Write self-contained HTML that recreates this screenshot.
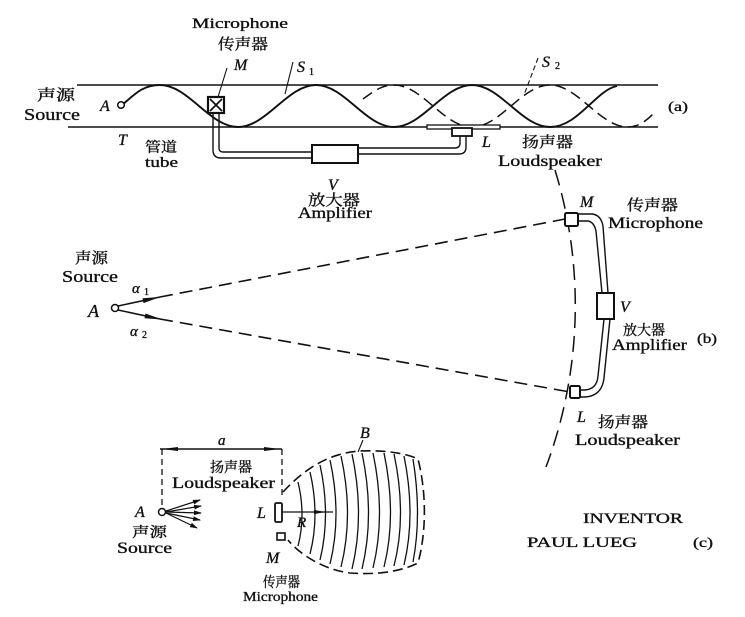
<!DOCTYPE html>
<html><head><meta charset="utf-8"><style>
html,body{margin:0;padding:0;background:#fff;}
svg{display:block;}
text{font-family:"Liberation Serif","Noto Serif CJK SC",serif;fill:#111;stroke:#111;stroke-width:0.35px;}
.cj{font-family:"Liberation Serif","Noto Serif CJK SC","Noto Sans CJK SC",serif;}
.it{font-style:italic;}
</style></head><body>
<svg width="745" height="617" viewBox="0 0 745 617" xmlns="http://www.w3.org/2000/svg">
<defs>
<marker id="ah" markerWidth="8" markerHeight="6" refX="7" refY="3" orient="auto" markerUnits="userSpaceOnUse"><path d="M0,0.6 L8,3 L0,5.4z" fill="#111"/></marker>
</defs>
<rect width="745" height="617" fill="#fff"/>

<!-- ===== (a) tube ===== -->
<g stroke="#111" fill="none">
<line x1="77" y1="85" x2="658" y2="85" stroke-width="1.6"/>
<line x1="68" y1="127" x2="658" y2="127" stroke-width="1.6"/>
<path d="M121,106 C134,95 142,85 160,85 C188.4,85 209.6,127 238,127 S287.6,85 316,85 S365.6,127 394,127 S443.6,85 472,85 S521.6,127 550,127 C578,127 596,90 617,86" stroke-width="1.9"/>
<path d="M363,99 C374,91 382,85 394,85 C422.4,85 443.6,127 472,127 S521.6,85 550,85 S599.6,127 628,127 C638,127 646,121 653,114" stroke-width="1.5" stroke-dasharray="11 6"/>
<line x1="227" y1="68" x2="218" y2="97" stroke-width="1.1"/>
<line x1="293" y1="62" x2="285" y2="94" stroke-width="1.1"/>
<line x1="538" y1="58" x2="524" y2="95" stroke-width="1.1" stroke-dasharray="5 3"/>
<path d="M213,113 L213,150 Q213,158 221,158 L312,158" stroke-width="1.4"/>
<path d="M219,113 L219,148 Q219,152 223,152 L312,152" stroke-width="1.4"/>
<path d="M358,148 L455,148 Q460,148 460,143 L460,136" stroke-width="1.4"/>
<path d="M358,154 L459,154 Q466,154 466,147 L466,136" stroke-width="1.4"/>
<rect x="312" y="145" width="46" height="18" fill="#fff" stroke-width="2"/>
<rect x="427" y="125" width="73" height="4" fill="#fff" stroke-width="1.3"/>
<rect x="452" y="128" width="20" height="8" fill="#fff" stroke-width="1.8"/>
<rect x="208" y="97" width="16" height="16" fill="#fff" stroke-width="2.2"/>
<line x1="210" y1="99" x2="222" y2="111" stroke-width="1.8"/>
<line x1="222" y1="99" x2="210" y2="111" stroke-width="1.8"/>
</g>
<circle cx="121" cy="105" r="3.3" fill="#fff" stroke="#111" stroke-width="1.5"/>

<text x="192" y="28" font-size="15" textLength="96" lengthAdjust="spacingAndGlyphs">Microphone</text>
<text class="cj" x="218" y="49" font-size="15" textLength="50" lengthAdjust="spacingAndGlyphs">传声器</text>
<text class="it" x="234" y="70" font-size="16">M</text>
<text class="it" x="297" y="72" font-size="16">S</text><text x="309" y="75" font-size="10">1</text>
<text class="it" x="542" y="67" font-size="16">S</text><text x="555" y="69" font-size="10">2</text>
<text class="cj" x="37" y="100" font-size="15" textLength="38" lengthAdjust="spacingAndGlyphs">声源</text>
<text x="24" y="120" font-size="17" textLength="56" lengthAdjust="spacingAndGlyphs">Source</text>
<text class="it" x="100" y="111" font-size="16">A</text>
<text class="it" x="118" y="145" font-size="16">T</text>
<text class="cj" x="145" y="152" font-size="14" textLength="32" lengthAdjust="spacingAndGlyphs">管道</text>
<text x="145" y="167" font-size="15" textLength="33" lengthAdjust="spacingAndGlyphs">tube</text>
<text class="it" x="328" y="190" font-size="16">V</text>
<text class="cj" x="308" y="205" font-size="15" textLength="52" lengthAdjust="spacingAndGlyphs">放大器</text>
<text x="298" y="218" font-size="16" textLength="74" lengthAdjust="spacingAndGlyphs">Amplifier</text>
<text class="it" x="482" y="147" font-size="16">L</text>
<text class="cj" x="522" y="147" font-size="15" textLength="51" lengthAdjust="spacingAndGlyphs">扬声器</text>
<text x="498" y="166" font-size="16" textLength="104" lengthAdjust="spacingAndGlyphs">Loudspeaker</text>
<text x="668" y="111" font-size="14" textLength="20" lengthAdjust="spacingAndGlyphs">(a)</text>

<!-- ===== (b) ===== -->
<g stroke="#111" fill="none">
<path d="M555,170 A461,461 0 0 1 546,467" stroke-width="1.5" stroke-dasharray="16 8"/>
<line x1="118" y1="306" x2="160" y2="297" stroke-width="1.5"/>
<line x1="160" y1="297" x2="565" y2="219" stroke-width="1.6" stroke-dasharray="13 7"/>
<line x1="118" y1="310" x2="160" y2="319" stroke-width="1.5"/>
<line x1="160" y1="319" x2="570" y2="392" stroke-width="1.6" stroke-dasharray="13 7"/>
<path d="M578,214 L592,214 Q601,215 603,226 L608,293" stroke-width="1.4"/>
<path d="M578,221 L588,221 Q594,222 596,231 L602,293" stroke-width="1.4"/>
<path d="M610,319 L604,378 Q602,396 585,397 L580,397" stroke-width="1.4"/>
<path d="M604,319 L598,376 Q597,389 585,390 L580,390" stroke-width="1.4"/>
<rect x="597" y="293" width="17" height="26" fill="#fff" stroke-width="2"/>
<rect x="565" y="213" width="13" height="13" rx="1.5" fill="#fff" stroke-width="2"/>
<rect x="570" y="386" width="10" height="12" rx="1.5" fill="#fff" stroke-width="2"/>
</g>
<polygon points="160,297 143.5,303.1 142.5,298.3" fill="#111"/>
<polygon points="162,319.5 144.5,318.3 145.5,313.5" fill="#111"/>
<circle cx="115" cy="308" r="3.5" fill="#fff" stroke="#111" stroke-width="1.5"/>

<text class="cj" x="75" y="263" font-size="15" textLength="33" lengthAdjust="spacingAndGlyphs">声源</text>
<text x="62" y="282" font-size="17" textLength="56" lengthAdjust="spacingAndGlyphs">Source</text>
<text class="it" x="88" y="317" font-size="18">A</text>
<text class="it" x="132" y="293" font-size="15">α</text><text x="144" y="295" font-size="10">1</text>
<text class="it" x="130" y="336" font-size="15">α</text><text x="142" y="338" font-size="10">2</text>
<text class="it" x="580" y="207" font-size="16">M</text>
<text class="cj" x="627" y="210" font-size="15" textLength="51" lengthAdjust="spacingAndGlyphs">传声器</text>
<text x="608" y="228" font-size="16" textLength="95" lengthAdjust="spacingAndGlyphs">Microphone</text>
<text class="it" x="620" y="312" font-size="16">V</text>
<text class="cj" x="623" y="335" font-size="14" textLength="42" lengthAdjust="spacingAndGlyphs">放大器</text>
<text x="612" y="350" font-size="16" textLength="75" lengthAdjust="spacingAndGlyphs">Amplifier</text>
<text x="697" y="343" font-size="14" textLength="20" lengthAdjust="spacingAndGlyphs">(b)</text>
<text class="it" x="577" y="422" font-size="16">L</text>
<text class="cj" x="598" y="427" font-size="15" textLength="50" lengthAdjust="spacingAndGlyphs">扬声器</text>
<text x="575" y="445" font-size="16" textLength="105" lengthAdjust="spacingAndGlyphs">Loudspeaker</text>

<!-- ===== (c) ===== -->
<g stroke="#111" fill="none">
<line x1="160" y1="449" x2="282" y2="449" stroke-width="1.5"/>
<line x1="162" y1="449" x2="162" y2="508" stroke-width="1.3" stroke-dasharray="6 4"/>
<line x1="282" y1="449" x2="282" y2="497" stroke-width="1.3" stroke-dasharray="6 4"/>
<line x1="166" y1="511" x2="200" y2="500" stroke-width="1.2" marker-end="url(#ah)"/>
<line x1="166" y1="512" x2="201" y2="506" stroke-width="1.2" marker-end="url(#ah)"/>
<line x1="166" y1="512" x2="201" y2="513" stroke-width="1.2" marker-end="url(#ah)"/>
<line x1="166" y1="513" x2="200" y2="520" stroke-width="1.2" marker-end="url(#ah)"/>
<line x1="166" y1="513" x2="197" y2="528" stroke-width="1.2" marker-end="url(#ah)"/>
<path d="M283,492 C305,468 330,453 360,451 C385,450 405,453 418,459 C426,490 427,530 418,563 C400,572 375,575 350,573 C325,570 300,555 288,540" stroke-width="1.6" stroke-dasharray="10 5"/>
<line x1="363" y1="440" x2="358" y2="452" stroke-width="1.1"/>
<g stroke-width="1.3">
<path d="M298,482 Q306,515 298,546"/>
<path d="M310,472 Q320,515 310,554"/>
<path d="M320,465 Q331,515 320,560"/>
<path d="M330,460 Q342,515 330,564"/>
<path d="M341,456 Q354,515 341,567"/>
<path d="M352,454 Q365,515 352,569"/>
<path d="M362,453 Q375,515 362,569"/>
<path d="M373,453 Q386,515 373,568"/>
<path d="M384,453 Q397,515 384,567"/>
<path d="M394,454 Q407,515 394,566"/>
<path d="M404,456 Q416,515 404,565"/>
<path d="M413,459 Q422,515 413,562"/>
</g>
<line x1="282" y1="512" x2="333" y2="512" stroke-width="1.3"/>
<rect x="275" y="503" width="7" height="19" rx="1.5" fill="#fff" stroke-width="1.8"/>
<rect x="277" y="533" width="8" height="7" fill="#fff" stroke-width="1.6"/>
</g>
<polygon points="162,449 178,447 178,451" fill="#111"/>
<polygon points="280,449 264,447 264,451" fill="#111"/>
<polygon points="326,512 314,510 314,514" fill="#111"/>
<circle cx="162" cy="512" r="3.5" fill="#fff" stroke="#111" stroke-width="1.5"/>

<text class="it" x="218" y="445" font-size="15">a</text>
<text class="cj" x="210" y="472" font-size="14" textLength="42" lengthAdjust="spacingAndGlyphs">扬声器</text>
<text x="172" y="488" font-size="16" textLength="103" lengthAdjust="spacingAndGlyphs">Loudspeaker</text>
<text class="it" x="135" y="517" font-size="16">A</text>
<text class="cj" x="132" y="537" font-size="14" textLength="35" lengthAdjust="spacingAndGlyphs">声源</text>
<text x="117" y="553" font-size="16" textLength="55" lengthAdjust="spacingAndGlyphs">Source</text>
<text class="it" x="257" y="518" font-size="16">L</text>
<text class="it" x="266" y="563" font-size="16">M</text>
<text class="cj" x="263" y="587" font-size="14" textLength="37" lengthAdjust="spacingAndGlyphs">传声器</text>
<text x="243" y="601" font-size="14" textLength="75" lengthAdjust="spacingAndGlyphs">Microphone</text>
<text class="it" x="297" y="527" font-size="15">R</text>
<text class="it" x="360" y="438" font-size="16">B</text>
<text x="583" y="523" font-size="15" textLength="100" lengthAdjust="spacingAndGlyphs">INVENTOR</text>
<text x="527" y="547" font-size="15" textLength="110" lengthAdjust="spacingAndGlyphs">PAUL LUEG</text>
<text x="693" y="547" font-size="14" textLength="20" lengthAdjust="spacingAndGlyphs">(c)</text>
</svg>
</body></html>
